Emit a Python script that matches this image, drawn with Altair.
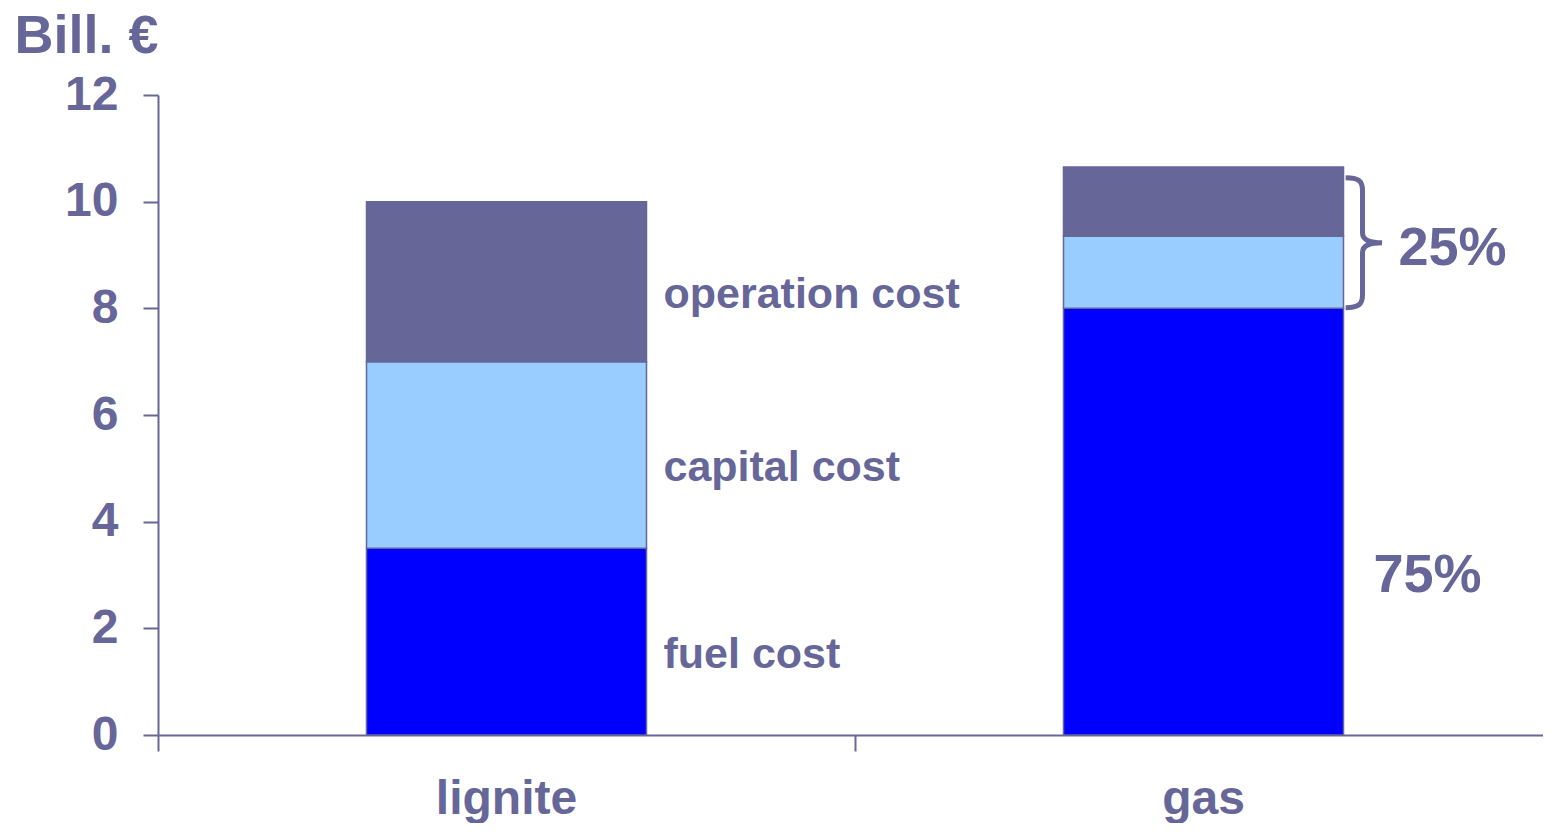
import altair as alt
import pandas as pd

# ---- data ----
categories = ["lignite", "gas"]
components = ["fuel cost", "capital cost", "operation cost"]
fuel = [3.5, 8.0]
capital = [3.5, 1.35]
operation = [3.0, 1.3]

SLATE = "#666699"
COLORS = ["#0000FF", "#99CCFF", "#666699"]
FONT = "Liberation Sans"

# ---- build stacked table ----
rows = []
for i, cat in enumerate(categories):
    start = 0.0
    for comp, vals in zip(components, [fuel, capital, operation]):
        end = start + vals[i]
        rows.append({"cat": cat, "component": comp, "y0": start, "y1": end,
                     "mid": (start + end) / 2})
        start = end
stack = pd.DataFrame(rows)

# segment labels beside the lignite bar
seg_labels = stack[stack["cat"] == "lignite"].copy()

# share annotations for the gas bar
gi = categories.index("gas")
g_total = fuel[gi] + capital[gi] + operation[gi]
fuel_share = round(100 * fuel[gi] / g_total)
ann = pd.DataFrame([
    {"cat": "gas", "txt": f"{100 - fuel_share}%", "y": (fuel[gi] + g_total) / 2, "which": "top"},
    {"cat": "gas", "txt": f"{fuel_share}%", "y": fuel[gi] / 2, "which": "bottom"},
])
brace = pd.DataFrame([{"cat": "gas", "y": (fuel[gi] + g_total) / 2}])

# the category axis runs on past the right edge of the picture
x_scale = alt.Scale(paddingInner=0, paddingOuter=0, range=[0, 1394])

x_enc = alt.X(
    "cat:N", sort=categories, scale=x_scale,
    axis=alt.Axis(
        title=None, labelAngle=0, labelFont=FONT, labelFontWeight="bold",
        labelFontSize=48, labelColor=SLATE, labelBaseline="alphabetic",
        labelPadding=62, tickSize=16, tickWidth=2, tickColor=SLATE,
        domainColor=SLATE, domainWidth=2, bandPosition=0, grid=False,
    ),
)
y_scale = alt.Scale(domain=[0, 12], nice=False)

bars = alt.Chart(stack).mark_bar(width=280, stroke=SLATE, strokeWidth=1.5).encode(
    x=x_enc,
    y=alt.Y(
        "y0:Q", scale=y_scale,
        axis=alt.Axis(
            values=[0, 2, 4, 6, 8, 10, 12], grid=False,
            title="Bill. €", titleAngle=0, titleX=-144, titleY=-43,
            titleAlign="left", titleBaseline="alphabetic", titleFont=FONT,
            titleFontWeight="bold", titleFontSize=54, titleColor=SLATE,
            labelFont=FONT, labelFontWeight="bold", labelFontSize=48,
            labelColor=SLATE, labelPadding=25, tickSize=15, tickWidth=2,
            tickColor=SLATE, domainColor=SLATE, domainWidth=2,
        ),
    ),
    y2="y1:Q",
    color=alt.Color("component:N", scale=alt.Scale(domain=components, range=COLORS),
                    legend=None),
    order=alt.Order("y0:Q"),
)

labels = alt.Chart(seg_labels).mark_text(
    align="left", baseline="alphabetic", dx=157, dy=26,
    font=FONT, fontWeight="bold", fontSize=43, color=SLATE,
).encode(x=alt.X("cat:N", sort=categories, scale=x_scale),
         y=alt.Y("mid:Q", scale=y_scale), text="component:N")

ann_top = alt.Chart(ann[ann["which"] == "top"]).mark_text(
    align="left", baseline="alphabetic", dx=195, dy=27,
    font=FONT, fontWeight="bold", fontSize=54, color=SLATE,
).encode(x=alt.X("cat:N", sort=categories, scale=x_scale),
         y=alt.Y("y:Q", scale=y_scale), text="txt:N")

ann_bottom = alt.Chart(ann[ann["which"] == "bottom"]).mark_text(
    align="left", baseline="alphabetic", dx=170, dy=70,
    font=FONT, fontWeight="bold", fontSize=54, color=SLATE,
).encode(x=alt.X("cat:N", sort=categories, scale=x_scale),
         y=alt.Y("y:Q", scale=y_scale), text="txt:N")

BRACE_PATH = ("M -0.28 -1 C -0.08 -1 -0.02 -0.95 -0.02 -0.8 L -0.02 -0.15 "
              "C -0.02 -0.04 0.1 0 0.28 0 C 0.1 0 -0.02 0.04 -0.02 0.15 "
              "L -0.02 0.8 C -0.02 0.95 -0.08 1 -0.28 1")
brace_mark = alt.Chart(brace).mark_point(
    shape=BRACE_PATH, filled=False, size=16900, strokeWidth=5, color=SLATE, opacity=1,
).encode(x=alt.X("cat:N", sort=categories, scale=x_scale, bandPosition=0.73),
         y=alt.Y("y:Q", scale=y_scale),
         yOffset=alt.value(5))

chart = alt.layer(bars, labels, ann_top, ann_bottom, brace_mark).properties(
    width=1385, height=640,
    autosize=alt.AutoSizeParams(type="none"),
    padding={"left": 150, "top": 87, "right": 0, "bottom": 88},
).configure(background="white").configure_view(stroke=None)

chart.save("out.html", embed_options={"renderer": "svg", "actions": False})
